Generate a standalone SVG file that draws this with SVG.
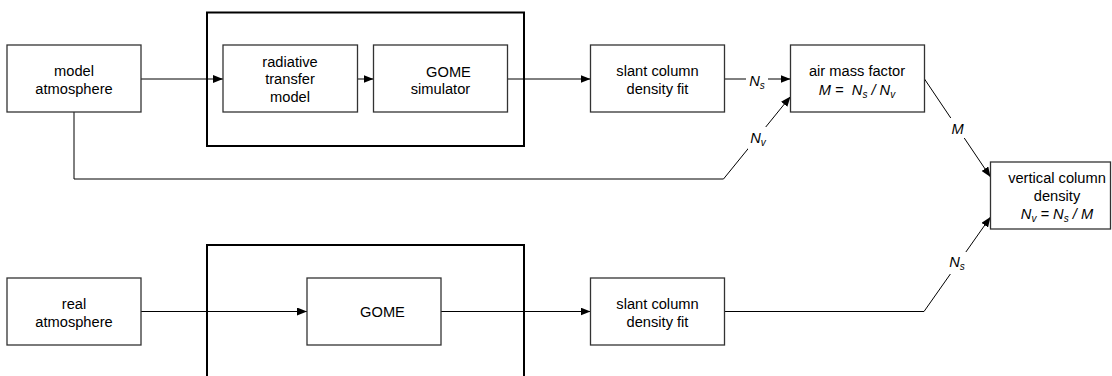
<svg xmlns="http://www.w3.org/2000/svg" width="1112" height="376" viewBox="0 0 1112 376">
<style>
  .box{fill:#fff;stroke:#333;stroke-width:1.3}
  .cont{fill:none;stroke:#000;stroke-width:2}
  .t{font-family:"Liberation Sans",Arial,sans-serif;font-size:14.67px;fill:#000;text-anchor:middle}
  .i{font-style:italic}
  .sub{font-size:10px}
  .ln{fill:none;stroke:#000;stroke-width:1}
  .bg{fill:#fff;stroke:none}
</style>
<defs>
  <marker id="ah" markerUnits="userSpaceOnUse" markerWidth="10" markerHeight="8" refX="10" refY="4" orient="auto">
    <path d="M0,0 L10,4 L0,8 z" fill="#000"/>
  </marker>
</defs>
<rect x="0" y="0" width="1112" height="376" fill="#fff"/>

<g id="container-model">
  <rect class="cont" x="207" y="12.5" width="317" height="133.5"/>
</g>
<g id="container-real">
  <rect class="cont" x="207" y="245" width="317" height="140"/>
</g>

<g id="connectors">
  <path class="ln" d="M141,79 L223,79" marker-end="url(#ah)"/>
  <path class="ln" d="M357.5,79 L373.5,79" marker-end="url(#ah)"/>
  <path class="ln" d="M507.5,79 L590.5,79" marker-end="url(#ah)"/>
  <path class="ln" d="M724.5,79 L790.5,79" marker-end="url(#ah)"/>
  <path class="ln" d="M74,112 L74,179 L723.5,179 L790.5,96.5" marker-end="url(#ah)"/>
  <path class="ln" d="M924.5,79 L990.5,177" marker-end="url(#ah)"/>
  <path class="ln" d="M141,311.5 L307,311.5" marker-end="url(#ah)"/>
  <path class="ln" d="M441,311.5 L590.5,311.5" marker-end="url(#ah)"/>
  <path class="ln" d="M724.5,311.5 L924,311.5 L990.5,217" marker-end="url(#ah)"/>
  <g id="labels">
    <rect class="bg" x="746" y="72" width="22" height="16"/>
    <text class="t i" x="757" y="86">N<tspan class="sub" dy="3">s</tspan></text>
    <rect class="bg" x="748" y="127" width="20" height="22"/>
    <text class="t i" x="758" y="143">N<tspan class="sub" dy="3">v</tspan></text>
    <rect class="bg" x="949" y="118" width="17" height="20"/>
    <text class="t i" x="957.5" y="134">M</text>
    <rect class="bg" x="947" y="252" width="22" height="22"/>
    <text class="t i" x="957" y="267">N<tspan class="sub" dy="3">s</tspan></text>
  </g>
</g>

<g id="model-atmosphere">
  <rect class="box" x="7" y="45" width="134" height="67"/>
  <text class="t" x="74" y="76">model</text>
  <text class="t" x="74" y="94">atmosphere</text>
</g>
<g id="radiative-transfer-model">
  <rect class="box" x="223" y="45" width="134.5" height="67"/>
  <text class="t" x="290" y="66.7">radiative</text>
  <text class="t" x="290" y="84.3">transfer</text>
  <text class="t" x="290" y="102">model</text>
</g>
<g id="gome-simulator">
  <rect class="box" x="373.5" y="45" width="134" height="67"/>
  <text class="t" x="448.5" y="76.5">GOME</text>
  <text class="t" x="440.5" y="94">simulator</text>
</g>
<g id="slant-column-1">
  <rect class="box" x="590.5" y="45" width="134" height="67"/>
  <text class="t" x="657.5" y="76">slant column</text>
  <text class="t" x="657.5" y="94">density fit</text>
</g>
<g id="air-mass-factor">
  <rect class="box" x="790.5" y="45" width="134" height="67"/>
  <text class="t" x="857" y="76">air mass factor</text>
  <text class="t i" x="857" y="94.5">M =&#160; N<tspan class="sub" dy="3">s</tspan><tspan dy="-3"> / N</tspan><tspan class="sub" dy="3">v</tspan></text>
</g>
<g id="vertical-column-density">
  <rect class="box" x="990.5" y="162" width="120" height="67"/>
  <text class="t" x="1057" y="183.3">vertical column</text>
  <text class="t" x="1057" y="201">density</text>
  <text class="t i" x="1057" y="218.5">N<tspan class="sub" dy="3">v</tspan><tspan dy="-3"> = N</tspan><tspan class="sub" dy="3">s</tspan><tspan dy="-3"> / M</tspan></text>
</g>
<g id="real-atmosphere">
  <rect class="box" x="7" y="278" width="134" height="67"/>
  <text class="t" x="74" y="309">real</text>
  <text class="t" x="74" y="327">atmosphere</text>
</g>
<g id="gome">
  <rect class="box" x="307" y="278" width="134" height="67"/>
  <text class="t" x="382.5" y="317">GOME</text>
</g>
<g id="slant-column-2">
  <rect class="box" x="590.5" y="278" width="134" height="67"/>
  <text class="t" x="657.5" y="309">slant column</text>
  <text class="t" x="657.5" y="327">density fit</text>
</g>
</svg>
